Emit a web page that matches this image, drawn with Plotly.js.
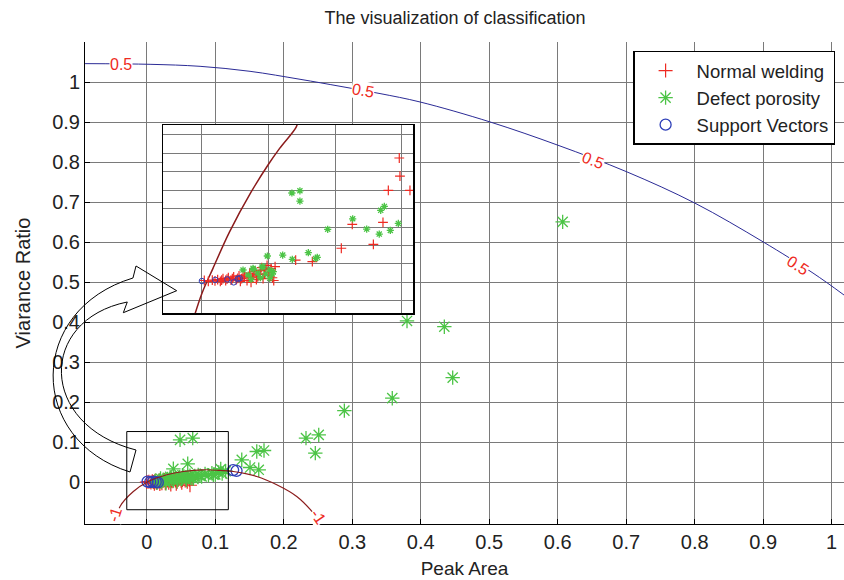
<!DOCTYPE html>
<html><head><meta charset="utf-8">
<script src="https://cdn.plot.ly/plotly-3.0.1.min.js"></script>
<style>html,body{margin:0;padding:0;background:#fff}#chart{width:844px;height:580px}</style>
</head><body><div id="chart"></div>
<script>
// ---------- tick labels ----------
const xTickVals = [0,0.1,0.2,0.3,0.4,0.5,0.6,0.7,0.8,0.9,1];
const xTickText = ['0','0.1','0.2','0.3','0.4','0.5','0.6','0.7','0.8','0.9','1'];
const yTickVals = [0,0.1,0.2,0.3,0.4,0.5,0.6,0.7,0.8,0.9,1];
const yTickText = ['0','0.1','0.2','0.3','0.4','0.5','0.6','0.7','0.8','0.9','1'];

// ---------- main plot: Normal welding ----------
const normalX = [0.000,0.003,0.006,0.008,0.010,0.012,0.014,0.016,0.018,0.020,0.022,0.024,0.026,0.028,0.030,0.032,0.034,0.036,0.038,0.040,0.042,0.044,0.046,0.048,0.050,0.052,0.054,0.056,0.058,0.060,0.062,0.064,0.066,0.011,0.019,0.027,0.035,0.043,0.051,0.059,0.063,0.047];
const normalY = [0.000,0.001,-0.001,0.002,0.000,0.003,-0.002,0.001,0.004,0.002,-0.003,0.003,0.005,0.001,0.004,-0.002,0.006,0.003,0.002,0.007,0.004,0.000,0.006,0.008,0.003,0.005,0.009,0.004,0.007,0.010,0.006,0.012,0.008,-0.004,-0.005,-0.003,-0.006,-0.004,-0.002,0.001,-0.008,0.011];

// ---------- main plot: Defect porosity ----------
const defectX = [0.012,0.015,0.018,0.021,0.024,0.027,0.030,0.033,0.036,0.039,0.042,0.045,0.048,0.051,0.054,0.057,0.060,0.063,0.066,0.070,0.075,0.080,0.085,0.090,0.095,0.100,0.105,0.110,0.115,0.020,0.028,0.034,0.044,0.052,0.058,0.068,
  0.0485,0.067,0.0597,0.0387,0.1386,0.1605,0.1711,0.1507,0.1634,0.1079,0.0971,0.0777,0.2324,0.251,0.246,0.2884,0.3584,0.3799,0.4344,0.4466,0.6072];
const defectY = [0.002,-0.002,0.004,0.001,0.006,0.003,0.008,0.005,0.009,0.004,0.011,0.007,0.012,0.009,0.014,0.010,0.013,0.016,0.012,0.015,0.018,0.014,0.020,0.017,0.022,0.019,0.024,0.021,0.027,0.009,-0.003,0.013,0.002,0.017,0.005,0.008,
  0.1056,0.1098,0.0457,0.0332,0.0557,0.0764,0.0789,0.0364,0.0307,0.0325,0.0182,0.0157,0.1098,0.118,0.0724,0.1787,0.2097,0.4027,0.3884,0.2611,0.6505];

// ---------- main plot: Support Vectors ----------
const svX = [0.001,0.005,0.009,0.013,0.016,0.126,0.131];
const svY = [0.001,0.000,0.001,0.000,-0.001,0.030,0.028];

// ---------- contour lines ----------
const c05X = [-0.0902,0.0047,0.0777,0.1507,0.2237,0.2821,0.3405,0.3989,0.5011,0.6003,0.7011,0.8004,0.8997,0.9727,1.018];
const c05Y = [1.0459,1.0442,1.0392,1.0267,1.0068,0.9893,0.9711,0.9501,0.9002,0.842,0.7753,0.6972,0.6006,0.5225,0.4676];
const cm1X = [-0.045,-0.0391,-0.0197,0.0022,0.0291,0.0533,0.0825,0.1069,0.1263,0.1605,0.1897,0.2189,0.2431,0.2529];
const cm1Y = [-0.099,-0.0609,-0.0235,0.0015,0.0182,0.0265,0.0307,0.029,0.0265,0.014,-0.0067,-0.0359,-0.0774,-0.1016];

// contour labels
const labelText  = ['0.5','0.5','0.5','0.5','-1','-1'];
const labelX     = [-0.0377,0.3161,0.6519,0.9512,-0.0464,0.25];
const labelY     = [1.0427,0.9793,0.8046,0.5424,-0.0816,-0.0866];
const labelAngle = [0,10,21,33,-72,55];

// ---------- inset (magnified view) ----------
const insetCurveX = [-0.0052,0.0002,0.0085,0.021,0.0372,0.0497,0.0584,0.0709,0.0721];
const insetCurveY = [-0.0177,-0.006,0.0076,0.0275,0.0492,0.0637,0.0727,0.0844,0.088];
const insetNormalX = [0.002,0.005,0.008,0.010,0.012,0.014,0.016,0.018,0.020,0.022,0.024,0.026,0.028,0.030,0.032,0.034,0.036,0.038,0.040,0.042,0.044,0.046,0.048,0.050,0.052,0.054,0.055,0.051,0.047,0.043,0.039,0.035,0.031,0.027,0.023,0.019,0.015,0.053,0.041,0.037,0.029,0.045,0.049,
  0.148,0.1485,0.1398,0.156,0.1128,0.1358,0.1286,0.1046,0.0829,0.0704];
const insetNormalY = [0.001,0.0005,0.0012,0.0008,0.0015,0.0005,0.002,0.001,0.0025,0.0012,0.003,0.0015,0.0035,0.002,0.004,0.001,0.005,0.0025,0.006,0.003,0.0065,0.002,0.007,0.004,0.0075,0.001,0.0085,0.0055,0.0045,0.0045,0.004,0.003,0.0028,0.0022,0.002,0.0018,0.0012,0.0025,0.0015,0.0,0.0005,0.008,0.0092,
  0.0675,0.0577,0.0499,0.0499,0.0315,0.0326,0.0206,0.0185,0.0112,0.0121];
const insetDefectX = [0.031,0.0385,0.046,0.051,0.051,0.035,0.042,0.048,0.044,0.053,0.0371,0.0387,0.0452,0.0537,
  0.0492,0.0607,0.0799,0.0679,0.0854,0.0866,0.0944,0.0676,0.0736,0.0736,0.1368,0.1341,0.1131,0.1473,0.1236,0.1413,0.133];
const insetDefectY = [0.0067,0.0076,0.0085,0.0067,0.0022,0.004,0.005,0.0045,0.0025,0.0045,0.0016,0.0071,0.0083,0.0058,
  0.0143,0.0148,0.0161,0.0125,0.013,0.0136,0.0288,0.0485,0.0497,0.0441,0.0412,0.0391,0.0345,0.032,0.0289,0.0282,0.0262];
const insetSvX = [0.0002,0.0102,0.0192,0.024,0.0272,0.0285];
const insetSvY = [0.0007,0.0013,0.0016,0.0,0.002,0.0022];

// ---------- styling ----------
const FONT = 'Liberation Sans, Arial, Helvetica, sans-serif';
const RED = '#ee2a22', GREEN = '#4cc446', BLUE = '#2e3fb8';
const GRID = '#7a7a7a';
const GDASH = 'solid';

const xMainRange = [-0.0903, 1.018];
const yMainRange = [-0.1048, 1.1];
const xInsetRange = [-0.0287, 0.1585];
const yInsetRange = [-0.0168, 0.0854];
const zoomBox = {x0:-0.0293, x1:0.119, y0:-0.0691, y1:0.1263};

const traces = [
  {x: normalX, y: normalY, type:'scatter', mode:'markers', name:'Normal welding',
   marker:{symbol:'cross-thin-open', size:10, color:RED, line:{width:1.2, color:RED}}},
  {x: defectX, y: defectY, type:'scatter', mode:'markers', name:'Defect porosity',
   marker:{symbol:'asterisk-open', size:12, color:GREEN, line:{width:1.3, color:GREEN}}},
  {x: svX, y: svY, type:'scatter', mode:'markers', name:'Support Vectors',
   marker:{symbol:'circle-open', size:11, color:BLUE, line:{width:1.3, color:BLUE}}},
  {x: c05X, y: c05Y, type:'scatter', mode:'lines', showlegend:false, hoverinfo:'skip',
   line:{color:'#2b2b96', width:1, shape:'spline'}},
  {x: cm1X, y: cm1Y, type:'scatter', mode:'lines', showlegend:false, hoverinfo:'skip',
   line:{color:'#8b1c1c', width:1.2, shape:'spline'}},
  // inset
  {x: insetCurveX, y: insetCurveY, xaxis:'x2', yaxis:'y2', type:'scatter', mode:'lines', showlegend:false,
   line:{color:'#8b1c1c', width:1.5, shape:'spline'}},
  {x: insetNormalX, y: insetNormalY, xaxis:'x2', yaxis:'y2', type:'scatter', mode:'markers', showlegend:false,
   marker:{symbol:'cross-thin-open', size:7, color:RED, line:{width:1.2, color:RED}}},
  {x: insetDefectX, y: insetDefectY, xaxis:'x2', yaxis:'y2', type:'scatter', mode:'markers', showlegend:false,
   marker:{symbol:'asterisk-open', size:6, color:GREEN, line:{width:1.3, color:GREEN}}},
  {x: insetSvX, y: insetSvY, xaxis:'x2', yaxis:'y2', type:'scatter', mode:'markers', showlegend:false,
   marker:{symbol:'circle-open', size:5.5, color:BLUE, line:{width:1, color:BLUE}}}
];

// plot-area geometry in pixels (for decorative arrow)
const L = 85, T = 42, W = 759, H = 482;
function P(px, py){ return ((px-L)/W).toFixed(4) + ',' + ((T+H-py)/H).toFixed(4); }
const arrowPath = 'M' + P(130,472) + ' C' + P(27,440) + ' ' + P(27,310) + ' ' + P(133,278) +
  ' L' + P(136,266) + ' L' + P(176.7,290.7) + ' L' + P(123.3,312.7) + ' L' + P(127.3,302) +
  ' C' + P(38,320) + ' ' + P(38,425) + ' ' + P(136,450) + ' Z';

const annotations = labelText.map((t,i) => ({
  x: labelX[i], y: labelY[i], xref:'x', yref:'y', text: t, showarrow:false,
  textangle: labelAngle[i], font:{family:FONT, size:16, color:RED}, bgcolor:'#ffffff',
  xanchor:'center', yanchor:'middle', borderpad:0
}));

const layout = {
  width: 844, height: 580,
  margin: {l: L, r: 844-L-W, t: T, b: 580-T-H},
  paper_bgcolor:'#ffffff', plot_bgcolor:'#ffffff',
  font:{family:FONT, size:20, color:'#222'},
  title:{text:'The visualization of classification', x:(455-L)/W, xref:'paper', xanchor:'center',
         y:1-18/580, yref:'container', yanchor:'middle', font:{family:FONT, size:18, color:'#222'}},
  showlegend:true,
  legend:{x:(633.3-L)/W, y:(T+H-50.7)/H, xanchor:'left', yanchor:'top', bgcolor:'#ffffff',
          bordercolor:'#000', borderwidth:1.3, font:{family:FONT, size:18.5, color:'#222'}, itemwidth:52,
          tracegroupgap:0},
  xaxis:{range:xMainRange, tickmode:'array', tickvals:xTickVals, ticktext:xTickText, ticks:'inside', ticklen:5,
         tickcolor:'#000', showline:true, linecolor:'#000', linewidth:1, zeroline:false,
         tickfont:{family:FONT, size:20, color:'#222'},
         showgrid:true, gridcolor:GRID, griddash:GDASH, gridwidth:1,
         title:{text:'Peak Area', font:{family:FONT, size:19, color:'#222'}, standoff:9}, domain:[0,1], anchor:'y'},
  yaxis:{range:yMainRange, tickmode:'array', tickvals:yTickVals, ticktext:yTickText, ticks:'inside', ticklen:5,
         tickcolor:'#000', showline:true, linecolor:'#000', linewidth:1, zeroline:false,
         tickfont:{family:FONT, size:20, color:'#222'},
         showgrid:true, gridcolor:GRID, griddash:GDASH, gridwidth:1,
         title:{text:'Viarance Ratio', font:{family:FONT, size:20, color:'#222'}, standoff:16}, domain:[0,1], anchor:'x'},
  xaxis2:{domain:[(163.3-L)/W, (413.3-L)/W], range:xInsetRange, anchor:'y2', dtick:0.05, tick0:0,
          showticklabels:false, ticks:'', showline:true, mirror:true, linecolor:'#000', linewidth:1.3,
          zeroline:false, showgrid:true, gridcolor:GRID, griddash:GDASH},
  yaxis2:{domain:[(T+H-313.3)/H, (T+H-125)/H], range:yInsetRange, anchor:'x2', dtick:0.01, tick0:0,
          showticklabels:false, ticks:'', showline:true, mirror:true, linecolor:'#000', linewidth:1.3,
          zeroline:false, showgrid:true, gridcolor:GRID, griddash:GDASH},
  shapes:[
    {type:'rect', xref:'x2', yref:'y2', x0:xInsetRange[0], x1:xInsetRange[1], y0:yInsetRange[0], y1:yInsetRange[1],
     fillcolor:'#ffffff', line:{width:0}, layer:'below'},
    {type:'rect', xref:'x', yref:'y', x0:zoomBox.x0, x1:zoomBox.x1, y0:zoomBox.y0, y1:zoomBox.y1,
     line:{color:'#000', width:1}, fillcolor:'rgba(0,0,0,0)', layer:'above'},
    {type:'path', xref:'paper', yref:'paper', path:arrowPath, line:{color:'#000', width:1},
     fillcolor:'rgba(0,0,0,0)', layer:'above'}
  ],
  annotations: annotations
};

Plotly.newPlot('chart', traces, layout, {displayModeBar:false, staticPlot:true});
</script></body></html>
